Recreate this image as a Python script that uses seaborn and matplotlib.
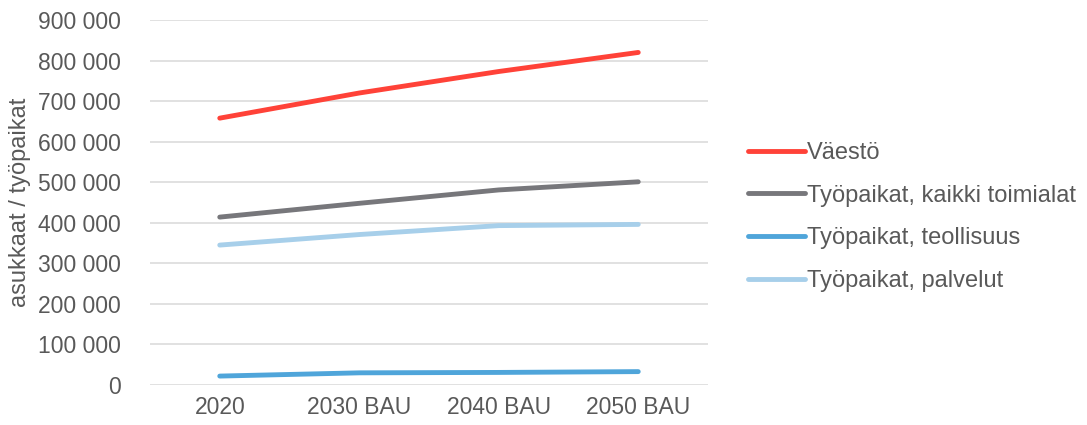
import pandas as pd
import numpy as np
import matplotlib
matplotlib.use("Agg")
import matplotlib.pyplot as plt
import seaborn as sns
from matplotlib.ticker import FuncFormatter

# ── data ─────────────────────────────────────────────
years = ["2020", "2030 BAU", "2040 BAU", "2050 BAU"]
vaesto = [658000, 720000, 773000, 820000]
tp_kaikki = [414000, 448000, 481000, 501000]
tp_teollisuus = [22000, 30000, 31000, 33000]
tp_palvelut = [345000, 371000, 393000, 396000]

series_names = ["Väestö", "Työpaikat, kaikki toimialat",
                "Työpaikat, teollisuus", "Työpaikat, palvelut"]
colors = ["#FF4238", "#77777B", "#4FA5DA", "#A7CFEA"]

rows = []
for name, vals in zip(series_names,
                      [vaesto, tp_kaikki, tp_teollisuus, tp_palvelut]):
    for i, v in enumerate(vals):
        rows.append({"x": i, "vuosi": years[i], "arvo": v, "sarja": name})
df = pd.DataFrame(rows)

# ── style ────────────────────────────────────────────
sns.set_style("white")
plt.rcParams["font.family"] = ["Liberation Sans", "DejaVu Sans"]
txt = "#595959"
fs = 16.5

fig = plt.figure(figsize=(10.87, 4.25), dpi=100)
ax = fig.add_axes([150/1087, 1-385/425, (708-150)/1087, (385-20)/425])

sns.lineplot(data=df, x="x", y="arvo", hue="sarja",
             hue_order=series_names, palette=colors,
             linewidth=3.5, solid_capstyle="round", ax=ax)

ax.set_xlim(-0.5, 3.5)
ax.set_ylim(0, 900000)
ax.set_xticks(range(len(years)))
ax.set_xticklabels(years)
ax.set_yticks(np.arange(0, 900001, 100000))
ax.yaxis.set_major_formatter(
    FuncFormatter(lambda v, p: f"{int(v):,}".replace(",", " ")))
ax.set_xlabel("")
ax.set_ylabel("asukkaat / työpaikat", fontsize=17, color=txt, labelpad=5)
ax.tick_params(axis="both", length=0, labelsize=fs, labelcolor=txt)
ax.tick_params(axis="y", pad=21)
ax.tick_params(axis="x", pad=8)
ax.grid(axis="y", color="#D9D9D9", linewidth=1.1)
ax.set_axisbelow(True)
for s in ax.spines.values():
    s.set_visible(False)

handles, labels = ax.get_legend_handles_labels()
ax.legend(handles, labels, loc="center left",
          bbox_to_anchor=(748/1087, 1-217/425),
          bbox_transform=fig.transFigure,
          frameon=False, fontsize=17, labelcolor=txt,
          handlelength=2.4, handletextpad=0.1,
          labelspacing=0.88, borderpad=0, borderaxespad=0)

plt.savefig("out.png", dpi=100)
plt.close()
